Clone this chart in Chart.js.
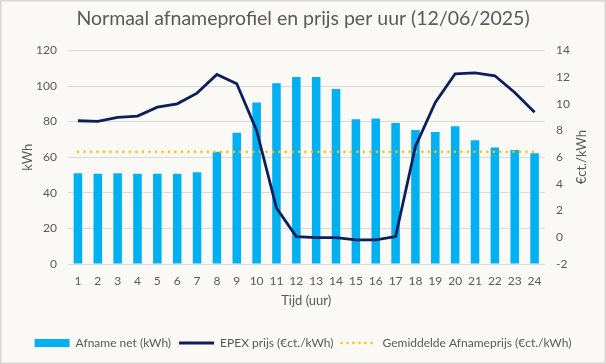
<!DOCTYPE html>
<html>
<head>
<meta charset="utf-8">
<script src="https://cdn.jsdelivr.net/npm/chart.js@4.4.1/dist/chart.umd.min.js"></script>
<style>
  html, body { margin: 0; padding: 0; background: #ffffff; }
  canvas { display: block; }
</style>
</head>
<body>
<canvas id="chart" width="606" height="364"></canvas>
<script>
// hours 1..24
const hours = ['1','2','3','4','5','6','7','8','9','10','11','12','13','14','15','16','17','18','19','20','21','22','23','24'];

// Afname net (kWh)
const afnameNet = [51, 50.7, 51, 50.7, 50.7, 50.7, 51.5, 63, 73.8, 90.8, 101.5, 105, 105, 98.3, 81.3, 81.8, 79.2, 75.3, 74.2, 77.4, 69.5, 65.4, 64, 62.2];

// EPEX prijs (ct/kWh)
const epexPrijs = [8.73, 8.68, 8.98, 9.08, 9.75, 10.0, 10.8, 12.2, 11.5, 8.0, 2.2, 0.05, -0.03, -0.03, -0.2, -0.2, 0.05, 6.8, 10.1, 12.25, 12.32, 12.1, 10.85, 9.36];

// Gemiddelde afnameprijs (ct/kWh)
const gemPrijs = [6.4, 6.4, 6.4, 6.4, 6.4, 6.4, 6.4, 6.4, 6.4, 6.4, 6.4, 6.4, 6.4, 6.4, 6.4, 6.4, 6.4, 6.4, 6.4, 6.4, 6.4, 6.4, 6.4, 6.4];

const FONT = 'Lato';
const GREY = '#595959';
const RIGHT_TITLE = '€ct./kWh';

// background + frame
const bgPlugin = {
    id: 'bg',
    beforeDraw(chart) {
        const c = chart.ctx;
        c.save();
        c.fillStyle = '#faf9f6';
        c.fillRect(0, 0, chart.width, chart.height);
        c.strokeStyle = '#d6d6d6';
        c.lineWidth = 1.5;
        c.strokeRect(0.75, 0.75, chart.width - 1.5, chart.height - 1.5);
        c.restore();
    }
};

// right axis title, reading bottom to top
const rightTitle = {
    id: 'rightTitle',
    afterDraw(chart) {
        const c = chart.ctx;
        const a = chart.chartArea;
        c.save();
        c.translate(582, (a.top + a.bottom) / 2);
        c.rotate(-Math.PI / 2);
        c.fillStyle = GREY;
        c.font = '13px ' + FONT;
        c.textAlign = 'center';
        c.textBaseline = 'middle';
        c.fillText(RIGHT_TITLE, 0, 0);
        c.restore();
    }
};

const ctx = document.getElementById('chart');
new Chart(ctx, {
    type: 'bar',
    data: {
        labels: hours,
        datasets: [
            {
                type: 'line',
                label: 'EPEX prijs (€ct./kWh)',
                data: epexPrijs,
                yAxisID: 'y2',
                borderColor: '#0c1f5c',
                borderWidth: 2.8,
                pointRadius: 0,
                tension: 0,
                order: 1
            },
            {
                type: 'line',
                label: 'Gemiddelde Afnameprijs (€ct./kWh)',
                data: gemPrijs,
                yAxisID: 'y2',
                borderColor: '#ffc000',
                borderWidth: 2.6,
                borderDash: [0, 6.5],
                borderCapStyle: 'round',
                pointRadius: 0,
                order: 2
            },
            {
                label: 'Afname net (kWh)',
                data: afnameNet,
                yAxisID: 'y',
                backgroundColor: '#00b0f0',
                categoryPercentage: 1,
                barPercentage: 0.43,
                order: 3
            }
        ]
    },
    options: {
        responsive: false,
        animation: false,
        layout: { padding: { left: 4, right: 4, top: 4, bottom: 5 } },
        plugins: {
            title: {
                display: true,
                text: 'Normaal afnameprofiel en prijs per uur (12/06/2025)',
                color: GREY,
                font: { family: FONT, size: 19.5, weight: 'normal' },
                padding: { top: 3, bottom: 20 }
            },
            legend: {
                position: 'bottom',
                labels: {
                    color: GREY,
                    font: { family: FONT, size: 12 },
                    boxWidth: 35,
                    boxHeight: 8,
                    padding: 8,
                    usePointStyle: true,
                    pointStyleWidth: 35,
                    generateLabels: function(chart) {
                        // order in the legend: bars, epex, gemiddelde
                        const ds = chart.data.datasets;
                        return [
                            { text: ds[2].label, fillStyle: '#00b0f0', strokeStyle: '#00b0f0', lineWidth: 0, pointStyle: 'rect', datasetIndex: 2, fontColor: GREY },
                            { text: ds[0].label, fillStyle: '#0c1f5c', strokeStyle: '#0c1f5c', lineWidth: 3, pointStyle: 'line', datasetIndex: 0, fontColor: GREY },
                            { text: ds[1].label, fillStyle: '#ffc000', strokeStyle: '#ffc000', lineWidth: 2.6, lineDash: [0, 6], lineCap: 'round', pointStyle: 'line', datasetIndex: 1, fontColor: GREY }
                        ];
                    }
                }
            },
            tooltip: { enabled: false }
        },
        scales: {
            x: {
                grid: { display: false, drawTicks: false },
                border: { display: false },
                ticks: { color: GREY, font: { family: FONT, size: 12 }, maxRotation: 0, autoSkip: false, padding: 10 },
                title: { display: true, text: 'Tijd (uur)', color: GREY, font: { family: FONT, size: 13 }, padding: { top: -5, bottom: 20 } }
            },
            y: {
                position: 'left',
                min: 0,
                max: 120,
                ticks: { stepSize: 20, color: GREY, font: { family: FONT, size: 12 }, padding: 11 },
                grid: { color: '#d9d9d9', drawTicks: false },
                border: { display: false },
                title: { display: true, text: 'kWh', color: GREY, font: { family: FONT, size: 13 }, padding: { top: 16, bottom: 0 } },
                afterFit: function(scale) { scale.width = 64; }
            },
            y2: {
                position: 'right',
                min: -2,
                max: 14,
                ticks: { stepSize: 2, color: GREY, font: { family: FONT, size: 12 }, padding: 11.5 },
                grid: { display: false, drawTicks: false },
                border: { display: false },
                afterFit: function(scale) { scale.width = 57.5; }
            }
        }
    },
    plugins: [bgPlugin, rightTitle]
});
</script>
</body>
</html>
